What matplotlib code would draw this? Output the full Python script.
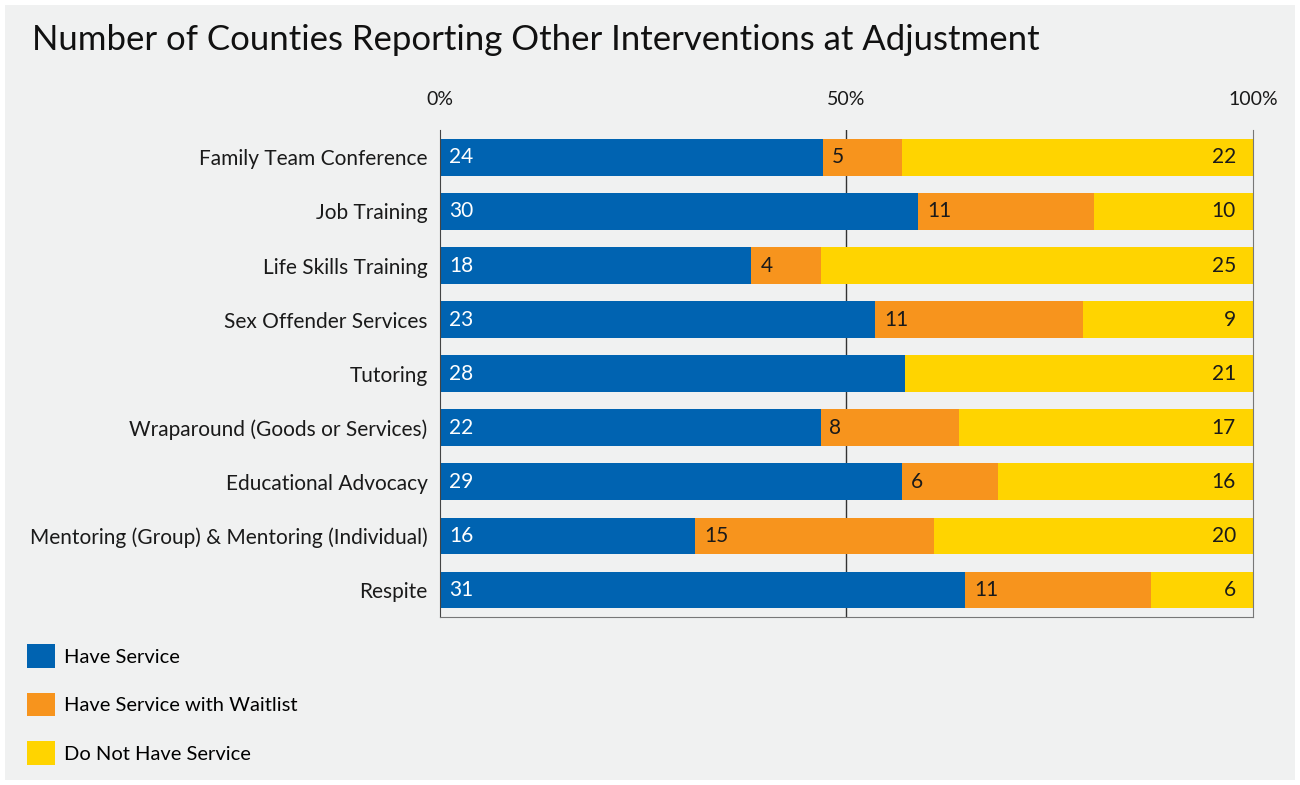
import numpy as np
import matplotlib.pyplot as plt
from matplotlib.patches import Patch, Rectangle

plt.rcParams['font.family'] = ['Lato', 'DejaVu Sans']

categories = ["Family Team Conference", "Job Training", "Life Skills Training",
              "Sex Offender Services", "Tutoring", "Wraparound (Goods or Services)",
              "Educational Advocacy", "Mentoring (Group) & Mentoring (Individual)",
              "Respite"]
have = [24, 30, 18, 23, 28, 22, 29, 16, 31]
waitlist = [5, 11, 4, 11, 0, 8, 6, 15, 11]
no_service = [22, 10, 25, 9, 21, 17, 16, 20, 6]
series_names = ["Have Service", "Have Service with Waitlist", "Do Not Have Service"]
colors = ["#0063b1", "#f7941d", "#ffd400"]
text_colors = ["white", "#1a1a1a", "#1a1a1a"]

bg = "#f0f1f1"
fig = plt.figure(figsize=(13, 7.85), dpi=100, facecolor="white")
fig.patches.append(Rectangle((0.004, 0.006), 0.992, 0.988, transform=fig.transFigure,
                             facecolor=bg, edgecolor="none", zorder=-10))
ax = fig.add_axes([0.3385, 0.214, 0.6253, 0.62])
ax.set_facecolor(bg)

counts = np.array([have, waitlist, no_service], dtype=float)
totals = counts.sum(axis=0)
shares = counts / totals
y = np.arange(len(categories))

left = np.zeros(len(categories))
for i in range(3):
    ax.barh(y, shares[i], left=left, height=0.68, color=colors[i], zorder=2)
    for j in range(len(categories)):
        if counts[i, j] == 0:
            continue
        if i < 2:
            ax.text(left[j] + 0.011, y[j], f"{int(counts[i, j])}", color=text_colors[i],
                    fontsize=15, va="center", ha="left", zorder=3)
        else:
            ax.text(1 - 0.021, y[j], f"{int(counts[i, j])}", color=text_colors[i],
                    fontsize=15, va="center", ha="right", zorder=3)
    left += shares[i]

ax.set_xlim(0, 1)
ax.set_ylim(len(categories) - 0.5, -0.5)
ax.axvline(0.5, color="#333333", lw=1, zorder=1)
ax.set_yticks(y)
ax.set_yticklabels(categories, fontsize=15, color="#1a1a1a")
ax.set_xticks([0, 0.5, 1])
ax.set_xticklabels(["0%", "50%", "100%"], fontsize=14, color="#1a1a1a")
ax.xaxis.tick_top()
ax.tick_params(axis="both", length=0)
ax.tick_params(axis="y", pad=9)
ax.tick_params(axis="x", pad=16)
ax.spines["top"].set_visible(False)
ax.spines["left"].set_color("#444444")
ax.spines["right"].set_color("#777777")
ax.spines["bottom"].set_color("#777777")

fig.text(0.025, 0.949, "Number of Counties Reporting Other Interventions at Adjustment",
         fontsize=25, color="#111111", va="center", ha="left")

handles = [Patch(facecolor=c, edgecolor="none") for c in colors]
fig.legend(handles, series_names, loc="upper left", bbox_to_anchor=(0.021, 0.179),
           frameon=False, fontsize=14.5, handlelength=1.4, handleheight=1.4,
           labelspacing=1.25, handletextpad=0.4, borderaxespad=0, borderpad=0)

fig.savefig("out.png", dpi=100, facecolor=fig.get_facecolor())
